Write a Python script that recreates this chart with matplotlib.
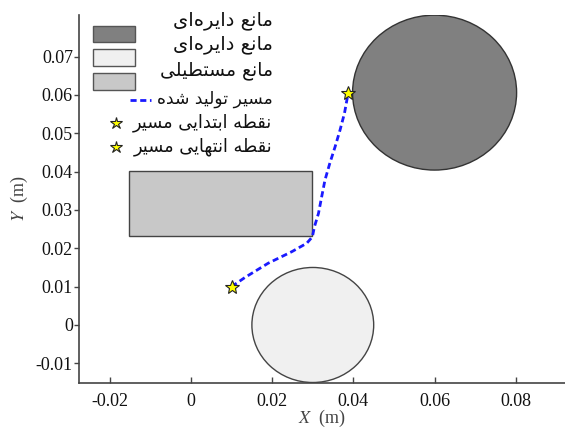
import matplotlib
matplotlib.use("Agg")
import matplotlib.pyplot as plt
from matplotlib.patches import Circle, Rectangle
from matplotlib.lines import Line2D

# ---------------- data ----------------
circle_dark_center = (0.060, 0.0606)
circle_dark_radius = 0.0202
circle_light_center = (0.030, 0.000)
circle_light_radius = 0.015
rect_origin = (-0.0152, 0.0232)
rect_size = (0.0451, 0.0170)

path_x = [0.0100, 0.0133, 0.0190, 0.0248, 0.0285, 0.0299, 0.0304, 0.0314,
          0.0322, 0.0330, 0.0342, 0.0355, 0.0367, 0.0378, 0.0387]
path_y = [0.0100, 0.0124, 0.0161, 0.0191, 0.0213, 0.0230, 0.0256, 0.0291,
          0.0335, 0.0378, 0.0422, 0.0465, 0.0508, 0.0552, 0.0604]
start_point = (0.0100, 0.0100)
end_point = (0.0387, 0.0604)

xticks = [-0.02, 0, 0.02, 0.04, 0.06, 0.08]
xtick_labels = ["-0.02", "0", "0.02", "0.04", "0.06", "0.08"]
yticks = [-0.01, 0, 0.01, 0.02, 0.03, 0.04, 0.05, 0.06, 0.07]
ytick_labels = ["-0.01", "0", "0.01", "0.02", "0.03", "0.04", "0.05", "0.06", "0.07"]

legend_labels = ["مانع دایره‌ای", "مانع دایره‌ای", "مانع مستطیلی",
                 "مسیر تولید شده", "نقطه ابتدایی مسیر", "نقطه انتهایی مسیر"]

# ---------------- simple Persian shaping for display ----------------
FORMS = {
    'ا': ('\uFE8D', '\uFE8E', None, None),
    'ب': ('\uFE8F', '\uFE90', '\uFE91', '\uFE92'),
    'ت': ('\uFE95', '\uFE96', '\uFE97', '\uFE98'),
    'د': ('\uFEA9', '\uFEAA', None, None),
    'ر': ('\uFEAD', '\uFEAE', None, None),
    'س': ('\uFEB1', '\uFEB2', '\uFEB3', '\uFEB4'),
    'ش': ('\uFEB5', '\uFEB6', '\uFEB7', '\uFEB8'),
    'ط': ('\uFEC1', '\uFEC2', '\uFEC3', '\uFEC4'),
    'ع': ('\uFEC9', '\uFECA', '\uFECB', '\uFECC'),
    'ق': ('\uFED5', '\uFED6', '\uFED7', '\uFED8'),
    'ل': ('\uFEDD', '\uFEDE', '\uFEDF', '\uFEE0'),
    'م': ('\uFEE1', '\uFEE2', '\uFEE3', '\uFEE4'),
    'ن': ('\uFEE5', '\uFEE6', '\uFEE7', '\uFEE8'),
    'ه': ('\uFEE9', '\uFEEA', '\uFEEB', '\uFEEC'),
    'و': ('\uFEED', '\uFEEE', None, None),
    'ی': ('\uFBFC', '\uFBFD', '\uFBFE', '\uFBFF'),
}


def shape_rtl(s):
    out = []
    n = len(s)
    for i, ch in enumerate(s):
        if ch == '\u200c':
            continue
        if ch not in FORMS:
            out.append(ch)
            continue
        prev = s[i - 1] if i > 0 else None
        nxt = s[i + 1] if i < n - 1 else None
        jp = prev in FORMS and FORMS[prev][2] is not None
        jn = FORMS[ch][2] is not None and nxt in FORMS
        iso, fin, ini, med = FORMS[ch]
        if jp and jn:
            out.append(med)
        elif jp:
            out.append(fin)
        elif jn:
            out.append(ini)
        else:
            out.append(iso)
    return ''.join(reversed(out))


plt.rcParams['mathtext.fontset'] = 'stix'

W, H = 565, 428
fig = plt.figure(figsize=(W / 100, H / 100), dpi=100)
ax = fig.add_axes([79.3 / W, 1 - 382.7 / H, 1 - 79.3 / W, (382.7 - 15) / H])

ax.add_patch(Circle(circle_dark_center, circle_dark_radius, facecolor='#808080',
                    edgecolor='#333333', lw=1.0, zorder=2))
ax.add_patch(Circle(circle_light_center, circle_light_radius, facecolor='#f0f0f0',
                    edgecolor='#444444', lw=1.0, zorder=2))
ax.add_patch(Rectangle(rect_origin, rect_size[0], rect_size[1], facecolor='#c8c8c8',
                       edgecolor='#444444', lw=1.0, zorder=2))
ax.plot(path_x, path_y, color='#1a1aff', lw=2.0, linestyle=(0, (2.2, 1.3)), zorder=3)
ax.plot([start_point[0]], [start_point[1]], marker='*', ms=10, mfc='#ffff00',
        mec='#222222', mew=0.8, ls='none', zorder=4)
ax.plot([end_point[0]], [end_point[1]], marker='*', ms=10, mfc='#ffff00',
        mec='#222222', mew=0.8, ls='none', zorder=4)

ax.set_xlim(-0.02751, 0.09212)
ax.set_ylim(-0.01505, 0.08084)
ax.set_xticks(xticks)
ax.set_xticklabels(xtick_labels)
ax.set_yticks(yticks)
ax.set_yticklabels(ytick_labels)

for s in ['top', 'right']:
    ax.spines[s].set_visible(False)
for s in ['left', 'bottom']:
    ax.spines[s].set_color('#444444')
    ax.spines[s].set_linewidth(1.2)

tick_family = ['Liberation Serif', 'DejaVu Serif']
for lab in ax.get_xticklabels() + ax.get_yticklabels():
    lab.set_fontfamily(tick_family)
    lab.set_fontsize(13)
ax.tick_params(axis='x', direction='in', length=4, width=1.0, colors='#444444',
               labelcolor='#111111', pad=7.2)
ax.tick_params(axis='y', direction='out', length=3.6, width=1.0, colors='#444444',
               labelcolor='#111111', pad=1)

ax.set_xlabel(r'$X$  (m)', fontsize=13, family=['Liberation Serif'], color='#444444',
              labelpad=-1.5)
ax.set_ylabel(r'$Y$  (m)', fontsize=13, family=['Liberation Serif'], color='#444444',
              labelpad=4)

# ---------------- hand-placed legend (figure pixels) ----------------
def fx(px):
    return px / W


def fy(py):
    return 1 - py / H


tf = fig.transFigure
patch_colors = ['#808080', '#f0f0f0', '#c8c8c8']
patch_rows = [(26, 42), (49.5, 65.7), (72.7, 90)]
for c, (t, b) in zip(patch_colors, patch_rows):
    fig.patches.append(Rectangle((fx(93.3), fy(b)), fx(135) - fx(93.3), fy(t) - fy(b),
                                 transform=tf, facecolor=c, edgecolor='#555555', lw=1.0))
fig.lines.append(Line2D([fx(130), fx(151)], [fy(100), fy(100)], transform=tf,
                        color='#1a1aff', lw=2.0, linestyle=(0, (2.2, 1.3))))
for yy in (123, 147):
    fig.lines.append(Line2D([fx(116)], [fy(yy)], transform=tf, marker='*', ms=9,
                            mfc='#ffff00', mec='#222222', mew=0.8, ls='none'))

text_rows = [20.7, 45, 70, 99, 123, 147]
text_sizes = [14, 14, 13.5, 12.3, 12.8, 12.8]
for lab, yy, fs in zip(legend_labels, text_rows, text_sizes):
    fig.text(fx(272.5), fy(yy), shape_rtl(lab), ha='right', va='center',
             fontsize=fs, family=['DejaVu Sans'], color='#111111')

fig.savefig('out.png', dpi=100)
